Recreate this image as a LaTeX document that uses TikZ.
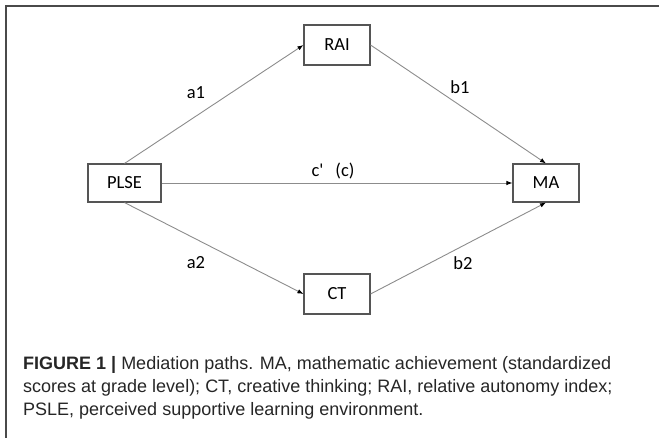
\documentclass[tikz,border=0pt]{standalone}
\usepackage{fontspec}
\setmainfont{Liberation Sans}
\newfontfamily\diagfont{Carlito}
\usetikzlibrary{arrows.meta}

\definecolor{framegray}{HTML}{4A4A4A}
\definecolor{boxgray}{HTML}{555555}
\definecolor{linegray}{HTML}{8C8C8C}

\tikzset{
	var/.style={draw=boxgray, line width=1.1pt,
		minimum width=66pt, minimum height=40pt, inner sep=0pt,
		font=\diagfont\fontsize{18.5}{20}\selectfont},
	pathline/.style={draw=linegray, line width=0.9pt,
		-{Latex[length=6pt,width=4.5pt,color=black]}},% thin gray line, black tip
	coef/.style={inner sep=0pt, font=\diagfont\fontsize{18.5}{20}\selectfont}
}

\begin{document}
\begin{tikzpicture}[x=1pt,y=-1pt]

	\useasboundingbox (0,0) rectangle (659,438);

	% Frame
	\draw[framegray,line width=1.5pt] (6,438) -- (6,6) -- (659,6);

	% Variables
	\node[var, minimum width=73pt, minimum height=38pt] (PLSE) at (124.5,183) {PLSE};
	\node[var] (RAI) at (337,45) {RAI};
	\node[var] (CT) at (337,294) {CT};
	\node[var, minimum height=38pt] (MA) at (546,183) {MA};

	% Paths
	\draw[pathline] (PLSE.north) -- (RAI.west);
	\draw[pathline] (PLSE.south) -- (CT.west);
	\draw[pathline] (RAI.east) -- (MA.north);
	\draw[pathline] (CT.east) -- (MA.south);
	\draw[pathline] (PLSE.east) -- (MA.west);

	% Coefficients
	\node[coef] (a1) at (196,93) {a1};
	\node[coef] (b1) at (460,87) {b1};
	\node[coef] (a2) at (196,263) {a2};
	\node[coef] (b2) at (463,263) {b2};
	\node[coef] (c) at (333,171) {c\textquotesingle\hspace{12pt}(c)};

	% Caption
	\node[anchor=north west, align=left, inner sep=0pt, text=black!85,
		font=\fontsize{18}{23}\selectfont] (caption) at (23,356)
		{\textbf{FIGURE 1 |} Mediation paths. MA, mathematic achievement (standardized\\
		scores at grade level); CT, creative thinking; RAI, relative autonomy index;\\
		PSLE, perceived supportive learning environment.};

\end{tikzpicture}
\end{document}
